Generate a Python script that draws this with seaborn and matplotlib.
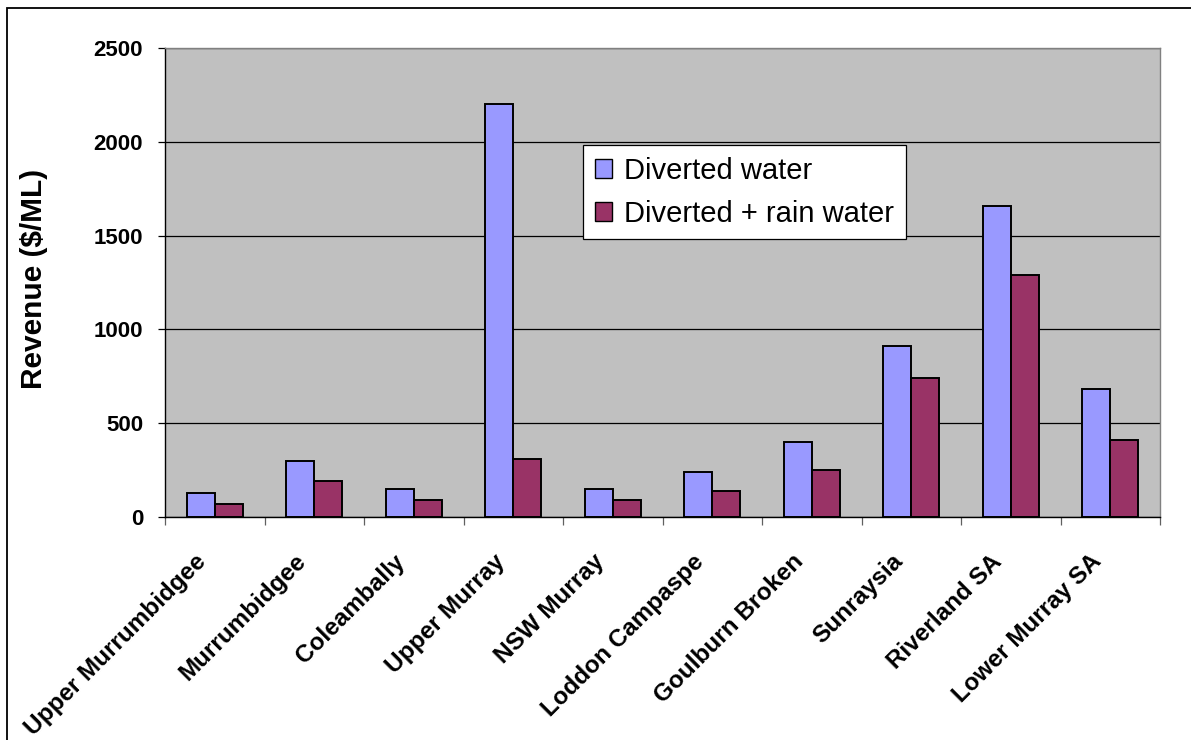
import pandas as pd
import numpy as np
import matplotlib
matplotlib.use("Agg")
import matplotlib.pyplot as plt
import matplotlib.transforms as mtransforms
from matplotlib.patches import Rectangle, Patch
import seaborn as sns

# ==========================================
# DATA
# ==========================================
regions = ["Upper Murrumbidgee", "Murrumbidgee", "Coleambally", "Upper Murray",
           "NSW Murray", "Loddon Campaspe", "Goulburn Broken", "Sunraysia",
           "Riverland SA", "Lower Murray SA"]
diverted = [130, 300, 150, 2200, 150, 240, 400, 910, 1660, 680]
diverted_rain = [70, 190, 90, 310, 90, 140, 250, 740, 1290, 410]
series_names = ["Diverted water", "Diverted + rain water"]
bar_colors = ["#9999FF", "#993366"]

df = pd.DataFrame({
    "region": regions * 2,
    "revenue": diverted + diverted_rain,
    "series": [series_names[0]] * len(regions) + [series_names[1]] * len(regions),
})

# ==========================================
# STYLE
# ==========================================
sns.set_theme(style="white")
plt.rcParams["font.family"] = ["Liberation Sans", "DejaVu Sans"]
plt.rcParams["text.color"] = "black"
plt.rcParams["axes.labelcolor"] = "black"
plt.rcParams["xtick.color"] = "black"
plt.rcParams["ytick.color"] = "black"

fig = plt.figure(figsize=(11.91, 7.40), dpi=100)
W, H = 1191, 740
# axes box in pixels: left 165, right 1160, top 48, bottom 517
ax = fig.add_axes([165 / W, 1 - 517 / H, (1160 - 165) / W, (517 - 48) / H])
ax.set_facecolor("#C0C0C0")

sns.barplot(data=df, x="region", y="revenue", hue="series", order=regions,
            hue_order=series_names, palette=bar_colors, width=0.56, gap=0,
            edgecolor="black", linewidth=1.4, saturation=1, ax=ax, legend=False)

# y axis
ax.set_ylim(0, 2500)
ax.set_yticks(np.arange(0, 2501, 500))
ax.yaxis.grid(True, color="black", linewidth=0.9)
ax.set_axisbelow(True)
ax.tick_params(axis="y", which="major", left=True, length=5.3, width=0.9,
               color="black", pad=10.4, labelsize=16)
for lbl in ax.get_yticklabels():
    lbl.set_fontweight("bold")

ax.set_ylabel("Revenue ($/ML)", fontsize=21.5, fontweight="bold", va="center")
ax.yaxis.set_label_coords(-0.1312, 0.5085)
ax.set_xlabel("")

# x axis: tick marks at category boundaries, labels at centers
ax.set_xlim(-0.5, len(regions) - 0.5)
ax.set_xticks(np.arange(-0.5, len(regions), 1.0), minor=True)
ax.tick_params(axis="x", which="minor", bottom=True, length=5.8, width=0.9,
               color="#606060")
ax.tick_params(axis="x", which="major", bottom=False, length=0, pad=29.5,
               labelsize=17.5)
offset = mtransforms.ScaledTranslation(-12 / 100, 0, fig.dpi_scale_trans)
for lbl in ax.get_xticklabels():
    lbl.set_rotation(45)
    lbl.set_ha("right")
    lbl.set_va("center")
    lbl.set_rotation_mode("anchor")
    lbl.set_fontweight("bold")
    lbl.set_transform(lbl.get_transform() + offset)

# spines
ax.spines["left"].set_color("black")
ax.spines["bottom"].set_color("black")
ax.spines["top"].set_color("#808080")
ax.spines["right"].set_color("#808080")
for s in ax.spines.values():
    s.set_linewidth(1.0)

# legend
handles = [Patch(facecolor=c, edgecolor="black", linewidth=1.0) for c in bar_colors]
leg = ax.legend(handles, series_names, loc="upper left",
                bbox_to_anchor=((583.3 - 165) / 995, (517 - 145.3) / 469),
                borderaxespad=0, fontsize=21, frameon=True, fancybox=False,
                framealpha=1, edgecolor="black", facecolor="white",
                handlelength=0.6, handleheight=0.6, handletextpad=0.4,
                labelspacing=0.5, borderpad=0.4)
leg.get_frame().set_linewidth(0.9)

# outer chart border (runs off the bottom and right of the picture)
fig.patches.append(Rectangle((7 / W, -0.2), 1.5, (1 - 8 / H) + 0.2,
                             transform=fig.transFigure, fill=False,
                             edgecolor="black", linewidth=1.3))

plt.savefig("out.png", dpi=100)
